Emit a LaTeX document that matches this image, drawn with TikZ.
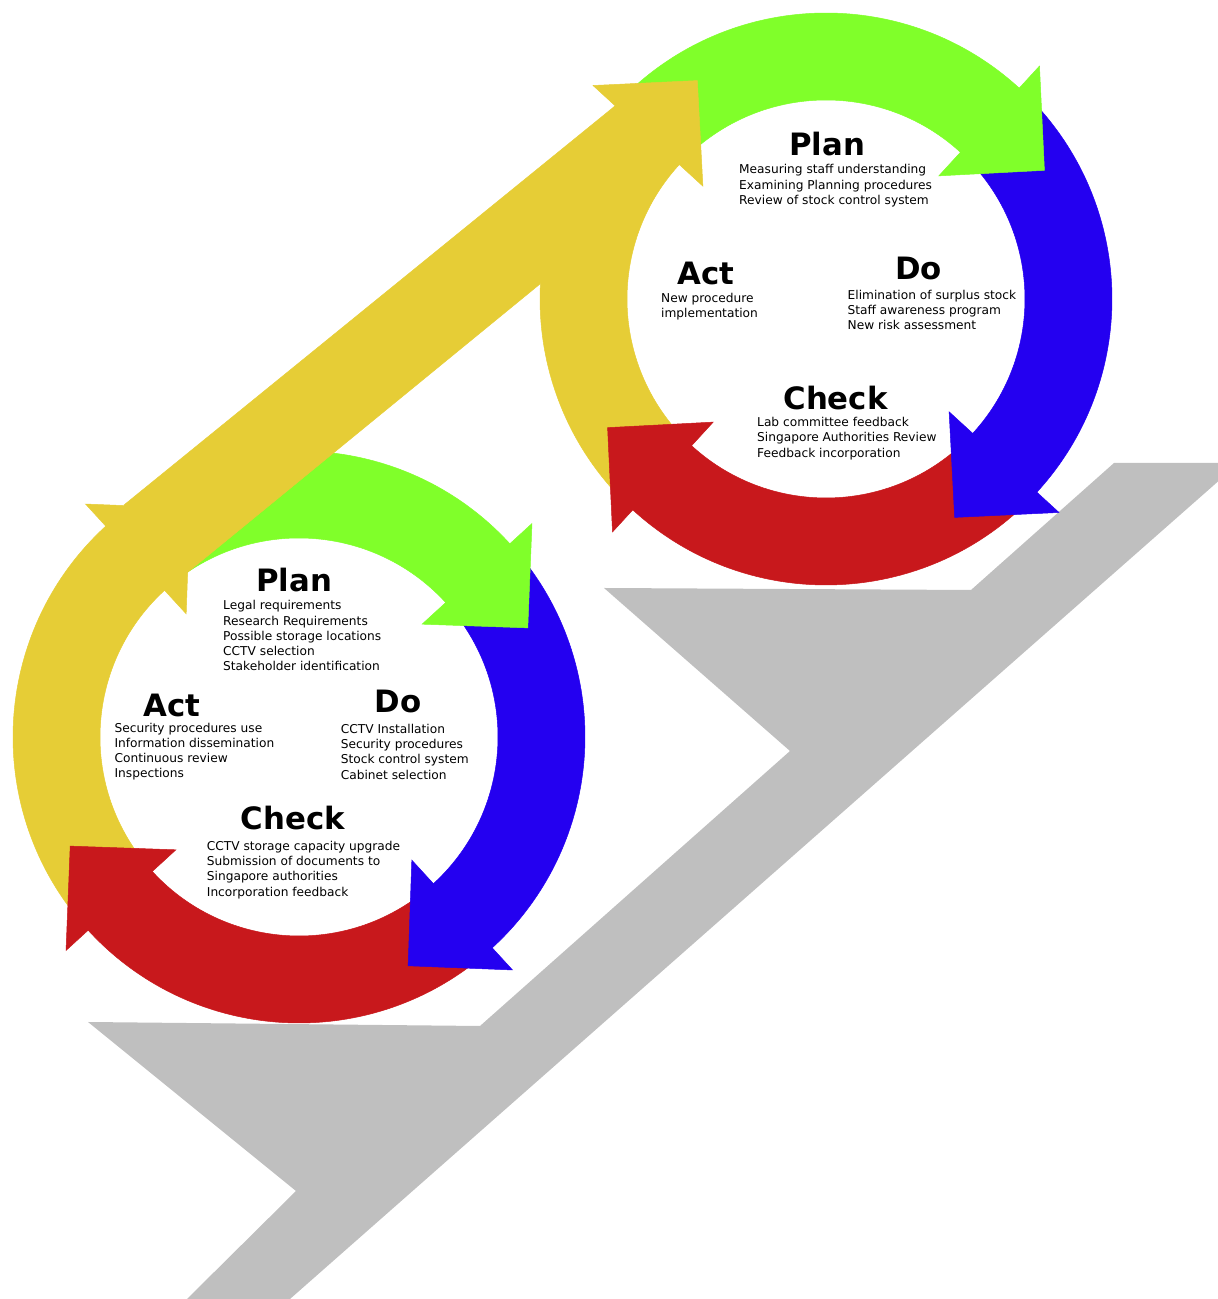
\documentclass[tikz,border=0pt]{standalone}
\usepackage{fontspec}
\setmainfont{DejaVu Sans}
\usepackage{xcolor}
\usepackage{tikz}
\definecolor{plangreen}{RGB}{128,255,42}
\definecolor{doblue}{RGB}{36,0,240}
\definecolor{checkred}{RGB}{200,24,28}
\definecolor{actyellow}{RGB}{230,205,54}
\definecolor{stepgray}{RGB}{191,191,191}
\tikzset{
  phase/.style   ={font=\fontsize{30.8}{36}\selectfont\bfseries,inner sep=0pt,anchor=base},
  task/.style    ={font=\fontsize{12.2}{15}\selectfont,inner sep=0pt,anchor=base west},
  ringpart/.style={line width=.5pt},
}

\begin{document}
\begin{tikzpicture}[x=1pt,y=1pt]
  \useasboundingbox (0,0) rectangle (1218,1299);
  \coordinate (up)  at (826,1000);
  \coordinate (low) at (299,562);

  % grey stairs
  \fill[stepgray] (187,0) -- (296,108) -- (88,277) -- (480,273) -- (790,548) -- (604,711)
    -- (971,709) -- (1114,836) -- (1239,836) -- (290,0) -- cycle;

  % ring arcs, tail of each one starts under the head before it
  \foreach \c/\r in {up/2.5,low/-2.5}{
    \begin{scope}[shift={(\c)}]
      \foreach \a/\col in {135/plangreen,45/doblue,-45/checkred,-135/actyellow}{
        \pgfmathsetmacro\s{\a+\r-2}
        \pgfmathsetmacro\e{\a+\r-91}
        \fill[\col,draw=\col,ringpart] (\s:286) arc[start angle=\s,end angle=\e,radius=286]
          -- (\e:199) arc[start angle=\e,end angle=\s,radius=199] -- cycle;
      }
    \end{scope}
  }
  % heads
  \foreach \c/\r in {up/2.5,low/-2.5}{
    \begin{scope}[shift={(\c)}]
      \foreach \a/\col in {135/plangreen,45/doblue,-45/checkred,-135/actyellow}{
        \pgfmathsetmacro\e{\a+\r-90}
        \fill[\col,draw=\col,ringpart] (\e:316) -- (\e-17:253.5) -- (\e:167) -- cycle;
      }
    \end{scope}
  }
  % long yellow link from the lower cycle up to the upper one
  \fill[actyellow,draw=actyellow,ringpart] (124,794) -- (615,1193) -- (540,1015) -- (188,727) -- cycle;

  % upper cycle
  \node[phase] (upplan)  at (827,1143)   {Plan};
  \node[phase] (upact)   at (706,1014)   {Act};
  \node[phase] (updo)    at (918.5,1019.6) {Do};
  \node[phase] (upcheck) at (835.5,889.5) {Check};
  \foreach \t [count=\i from 0] in {Measuring staff understanding,Examining Planning procedures,Review of stock control system}
    \node[task] (upplan\i) at (739,1125-15.2*\i) {\t};
  \foreach \t [count=\i from 0] in {New procedure,implementation}
    \node[task] (upact\i) at (661,996.7-15.2*\i) {\t};
  \foreach \t [count=\i from 0] in {Elimination of surplus stock,Staff awareness program,New risk assessment}
    \node[task] (updo\i) at (847.5,999.7-15.2*\i) {\t};
  \foreach \t [count=\i from 0] in {Lab committee feedback,Singapore Authorities Review,Feedback incorporation}
    \node[task] (upcheck\i) at (757,872.3-15.2*\i) {\t};

  % lower cycle
  \node[phase] (loplan)  at (294.3,707.1) {Plan};
  \node[phase] (loact)   at (171.8,582.7) {Act};
  \node[phase] (lodo)    at (398,586.1)   {Do};
  \node[phase] (locheck) at (292.8,469.4) {Check};
  \foreach \t [count=\i from 0] in {Legal requirements,Research Requirements,Possible storage locations,CCTV selection,Stakeholder identification}
    \node[task] (loplan\i) at (223,689.1-15.2*\i) {\t};
  \foreach \t [count=\i from 0] in {Security procedures use,Information dissemination,Continuous review,Inspections}
    \node[task] (loact\i) at (114.4,566.6-15.2*\i) {\t};
  \foreach \t [count=\i from 0] in {CCTV Installation,Security procedures,Stock control system,Cabinet selection}
    \node[task] (lodo\i) at (340.6,565.5-15.2*\i) {\t};
  \foreach \t [count=\i from 0] in {CCTV storage capacity upgrade,Submission of documents to,Singapore authorities,Incorporation feedback}
    \node[task] (locheck\i) at (206.7,448.4-15.2*\i) {\t};
\end{tikzpicture}
\end{document}
